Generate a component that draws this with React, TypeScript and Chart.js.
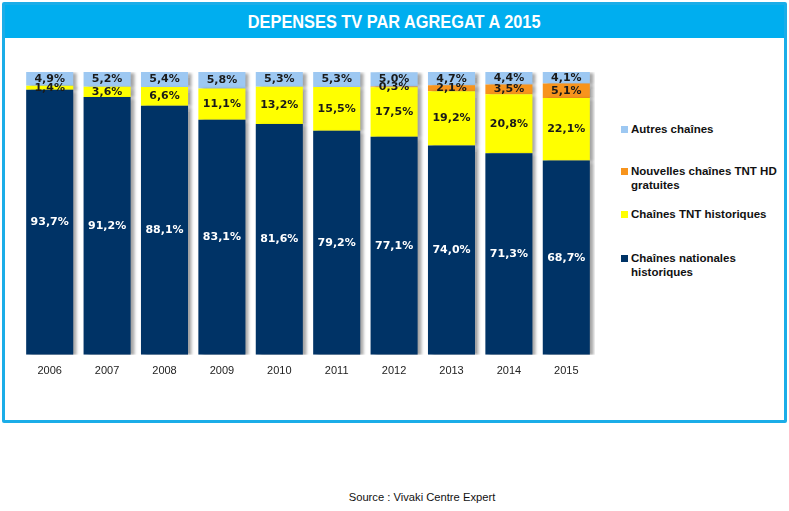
import React, { useEffect, useRef } from "react";
import { Chart, registerables } from "chart.js";
Chart.register(...registerables);

const years = ["2006", "2007", "2008", "2009", "2010", "2011", "2012", "2013", "2014", "2015"];
const nationales = [93.7, 91.2, 88.1, 83.1, 81.6, 79.2, 77.1, 74.0, 71.3, 68.7];
const tntHistoriques = [1.4, 3.6, 6.6, 11.1, 13.2, 15.5, 17.5, 19.2, 20.8, 22.1];
const nouvellesTnt = [0, 0, 0, 0, 0, 0, 0.3, 2.1, 3.5, 5.1];
const autres = [4.9, 5.2, 5.4, 5.8, 5.3, 5.3, 5.0, 4.7, 4.4, 4.1];

const seriesNames = [
  "Chaînes nationales historiques",
  "Chaînes TNT historiques",
  "Nouvelles chaînes TNT HD gratuites",
  "Autres chaînes",
];
const seriesColors = ["#003366", "#FFFF00", "#F7941D", "#9DC8F2"];
const labelColors = ["#FFFFFF", "#1A1A1A", "#1A1A1A", "#1A1A1A"];

const title = "DEPENSES TV PAR AGREGAT A 2015";
const source = "Source : Vivaki Centre Expert";

const shadowPlugin = {
  id: "barShadow",
  beforeDatasetsDraw(chart: any) {
    const ctx = chart.ctx;
    ctx.save();
    ctx.shadowColor = "rgba(0,0,0,0.35)";
    ctx.shadowOffsetX = 4;
    ctx.shadowOffsetY = 1;
    ctx.shadowBlur = 3;
  },
  afterDatasetsDraw(chart: any) {
    chart.ctx.restore();
  },
};

const valueLabelPlugin = {
  id: "valueLabels",
  afterDatasetsDraw(chart: any) {
    const ctx = chart.ctx;
    ctx.save();
    ctx.font = "bold 11px 'DejaVu Sans'";
    ctx.textAlign = "center";
    ctx.textBaseline = "middle";
    chart.data.datasets.forEach((ds: any, di: number) => {
      const meta = chart.getDatasetMeta(di);
      meta.data.forEach((bar: any, i: number) => {
        const v = ds.data[i];
        if (!v) return;
        const p = bar.getProps(["x", "y", "base"], true);
        ctx.fillStyle = labelColors[di];
        ctx.fillText(v.toFixed(1).replace(".", ",") + "%", p.x, (p.y + p.base) / 2);
      });
    });
    ctx.restore();
  },
};

function ChartCanvas() {
  const ref = useRef<HTMLCanvasElement | null>(null);
  useEffect(() => {
    if (!ref.current) return;
    const seriesData = [nationales, tntHistoriques, nouvellesTnt, autres];
    const chart = new Chart(ref.current, {
      type: "bar",
      data: {
        labels: years,
        datasets: seriesData.map((d, i) => ({
          label: seriesNames[i],
          data: d,
          backgroundColor: seriesColors[i],
          borderWidth: 0,
          categoryPercentage: 1,
          barPercentage: 0.82,
        })),
      },
      options: {
        animation: false,
        responsive: false,
        maintainAspectRatio: false,
        layout: { padding: { left: 21, right: 15, top: 72, bottom: 4 } },
        plugins: { legend: { display: false }, tooltip: { enabled: false } },
        scales: {
          x: {
            stacked: true,
            grid: { display: false, drawTicks: false },
            border: { display: false },
            ticks: { color: "#222", font: { family: "'Liberation Sans'", size: 11 }, padding: 10 },
          },
          y: { stacked: true, display: false, min: 0, max: 100 },
        },
      },
      plugins: [shadowPlugin, valueLabelPlugin],
    });
    return () => chart.destroy();
  }, []);
  return (
    <canvas
      ref={ref}
      width={610}
      height={392}
      style={{ position: "absolute", left: 0, top: 0, width: 610, height: 392 }}
    />
  );
}

const legendItems = [
  { idx: 3, lines: ["Autres chaînes"], top: 122 },
  { idx: 2, lines: ["Nouvelles chaînes TNT HD", "gratuites"], top: 164 },
  { idx: 1, lines: ["Chaînes TNT historiques"], top: 207 },
  { idx: 0, lines: ["Chaînes nationales", "historiques"], top: 251 },
];

export default function App() {
  return (
    <div
      style={{
        position: "absolute",
        left: 0,
        top: 0,
        width: 789,
        height: 511,
        background: "#fff",
        overflow: "hidden",
      }}
    >
      <div
        style={{
          position: "absolute",
          left: 2,
          top: 2,
          width: 785,
          height: 421,
          boxSizing: "border-box",
          border: "3px solid #1BADE8",
          borderRadius: 2,
          background: "#fff",
        }}
      >
        <div
          style={{
            position: "absolute",
            left: 0,
            top: 0,
            right: 0,
            height: 33,
            background: "#00AEEF",
            color: "#fff",
            fontFamily: "'Liberation Sans', sans-serif",
            fontWeight: "bold",
            fontSize: 19,
            lineHeight: "33px",
            textAlign: "center",
          }}
        >
          <span style={{ display: "inline-block", transform: "scaleX(0.86)" }}>{title}</span>
        </div>
      </div>
      <ChartCanvas />
      {legendItems.map((it) => (
        <div
          key={it.idx}
          style={{
            position: "absolute",
            left: 621,
            top: it.top,
            fontFamily: "'Liberation Sans', sans-serif",
            fontWeight: "bold",
            fontSize: 11.5,
            lineHeight: "14px",
            color: "#111",
          }}
        >
          <span
            style={{
              position: "absolute",
              left: 0,
              top: 4,
              width: 7,
              height: 7,
              background: seriesColors[it.idx],
            }}
          />
          <div style={{ marginLeft: 10, whiteSpace: "nowrap" }}>
            {it.lines.map((l, k) => (
              <div key={k}>{l}</div>
            ))}
          </div>
        </div>
      ))}
      <div
        style={{
          position: "absolute",
          left: 0,
          width: 789,
          top: 491,
          textAlign: "center",
          fontFamily: "'Liberation Sans', sans-serif",
          fontSize: 11.2,
          color: "#111",
          paddingLeft: 55,
          boxSizing: "border-box",
        }}
      >
        {source}
      </div>
    </div>
  );
}
